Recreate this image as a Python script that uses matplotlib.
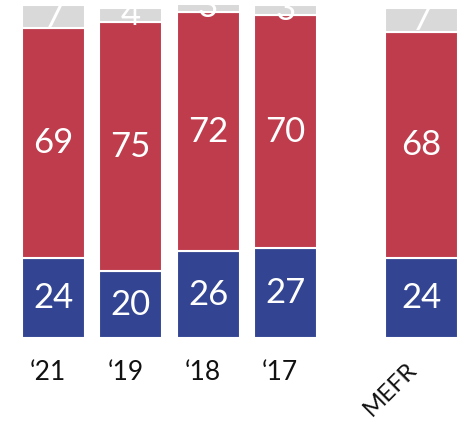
import matplotlib
matplotlib.use("Agg")
import matplotlib.pyplot as plt

categories = ["\u201821", "\u201819", "\u201818", "\u201817", "MEFR"]
blue_vals = [24, 20, 26, 27, 24]
red_vals = [69, 75, 72, 70, 68]
gray_vals = [7, 4, 3, 3, 7]

positions = [0, 1, 2, 3, 4.76]
widths = [0.815, 0.815, 0.815, 0.815, 0.945]

c_blue = "#334592"
c_red = "#BE3C4C"
c_gray = "#D9D9D9"

plt.rcParams['font.family'] = ['Lato', 'DejaVu Sans']

fig = plt.figure(figsize=(4.67, 4.25), dpi=100)
ax = fig.add_axes([0, 87 / 425, 1, 333 / 425])
ax.set_xlim(-0.692, 5.35)
ax.set_ylim(0, 100)

bottoms = [0] * len(categories)
for vals, col in [(blue_vals, c_blue), (red_vals, c_red), (gray_vals, c_gray)]:
    ax.bar(positions, vals, width=widths, bottom=bottoms, color=col,
           edgecolor="white", linewidth=1.5)
    for p, v, b in zip(positions, vals, bottoms):
        ax.text(p, b + v / 2, str(v), ha="center", va="center",
                color="white", fontsize=25, clip_on=True)
    bottoms = [b + v for b, v in zip(bottoms, vals)]

for sp in ax.spines.values():
    sp.set_visible(False)
ax.set_yticks([])
ax.set_xticks([])

for p, lab in zip(positions[:4], categories[:4]):
    ax.text(p - 0.07, -6.5, lab, ha="center", va="top", fontsize=19,
            color="#111111")
ax.text(positions[4] - 0.1, -8.3, categories[4], ha="right", va="center",
        rotation=45, rotation_mode="anchor", fontsize=17.5, color="#111111")

fig.savefig("out.png", dpi=100)
